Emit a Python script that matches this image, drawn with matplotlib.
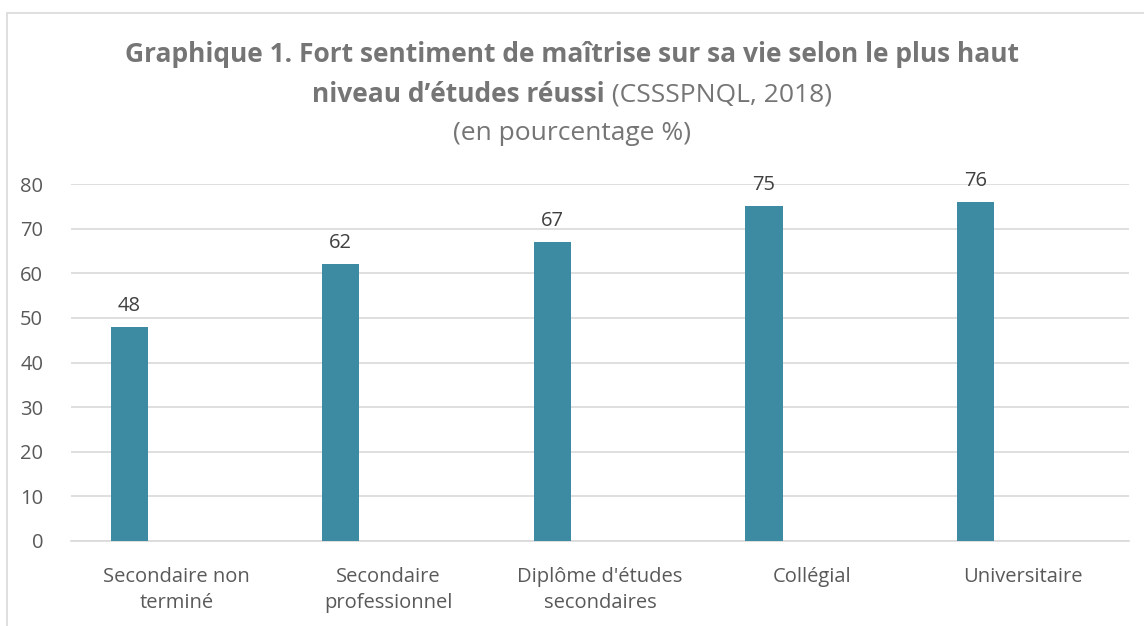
import matplotlib
matplotlib.use("Agg")
import matplotlib.pyplot as plt
import numpy as np
from matplotlib.patches import Rectangle

categories = ["Secondaire non\nterminé", "Secondaire\nprofessionnel", "Diplôme d'études\nsecondaires", "Collégial", "Universitaire"]
values = [48, 62, 67, 75, 76]
yticks = [0, 10, 20, 30, 40, 50, 60, 70, 80]

plt.rcParams['font.family'] = ['Open Sans', 'DejaVu Sans']

W, H = 1144, 626
fig = plt.figure(figsize=(W/100, H/100), dpi=100)
fig.patch.set_facecolor('white')

# chart border
fig.add_artist(Rectangle((7/W, -0.1), 1.2, (H-13)/H + 0.1, transform=fig.transFigure,
                         fill=False, edgecolor='#d9d9d9', linewidth=1.2))

ax = fig.add_axes([71/W, 1-541/H, (1129-71)/W, (541-184)/H])
x = np.arange(len(categories))
bar_color = '#3d8ba3'
bars = ax.bar(x - 0.225, values, width=0.175, color=bar_color, zorder=3)
ax.set_xlim(-0.5, len(categories) - 0.5)
ax.set_ylim(0, 80)
ax.set_yticks(yticks)
ax.set_xticks(x)
ax.set_xticklabels(categories, fontsize=14.5, color='#595959', linespacing=1.4)
ax.tick_params(axis='both', length=0, labelsize=14.5, labelcolor='#595959')
ax.tick_params(axis='x', pad=19)
ax.tick_params(axis='y', pad=20)
ax.grid(axis='y', color='#d9d9d9', linewidth=1.2, zorder=0)
for s in ['top', 'right', 'left']:
    ax.spines[s].set_visible(False)
ax.spines['bottom'].set_color('#d9d9d9')
ax.spines['bottom'].set_linewidth(1.2)

for b, v in zip(bars, values):
    ax.annotate(str(v), (b.get_x() + b.get_width()/2, v), xytext=(0, 8),
                textcoords='offset points', ha='center', va='bottom',
                fontsize=14.5, color='#404040')

# title
tcol = '#757575'
fs = 19
fig.text(0.5, 1-55/H, "Graphique 1. Fort sentiment de maîtrise sur sa vie selon le plus haut",
         ha='center', va='center', fontsize=fs, fontweight='bold', color=tcol)
r = fig.canvas.get_renderer()
t1 = fig.text(0, 1-95/H, "niveau d’études réussi", ha='left', va='center',
              fontsize=fs, fontweight='bold', color=tcol)
t2 = fig.text(0, 1-95/H, " (CSSSPNQL, 2018)", ha='left', va='center',
              fontsize=fs, color=tcol)
w1 = t1.get_window_extent(r).width
w2 = t2.get_window_extent(r).width
start = (W - (w1 + w2)) / 2
t1.set_x(start / W)
t2.set_x((start + w1) / W)
fig.text(0.5, 1-133/H, "(en pourcentage %)", ha='center', va='center',
         fontsize=fs, color=tcol)

fig.savefig("out.png", dpi=100, facecolor='white')
